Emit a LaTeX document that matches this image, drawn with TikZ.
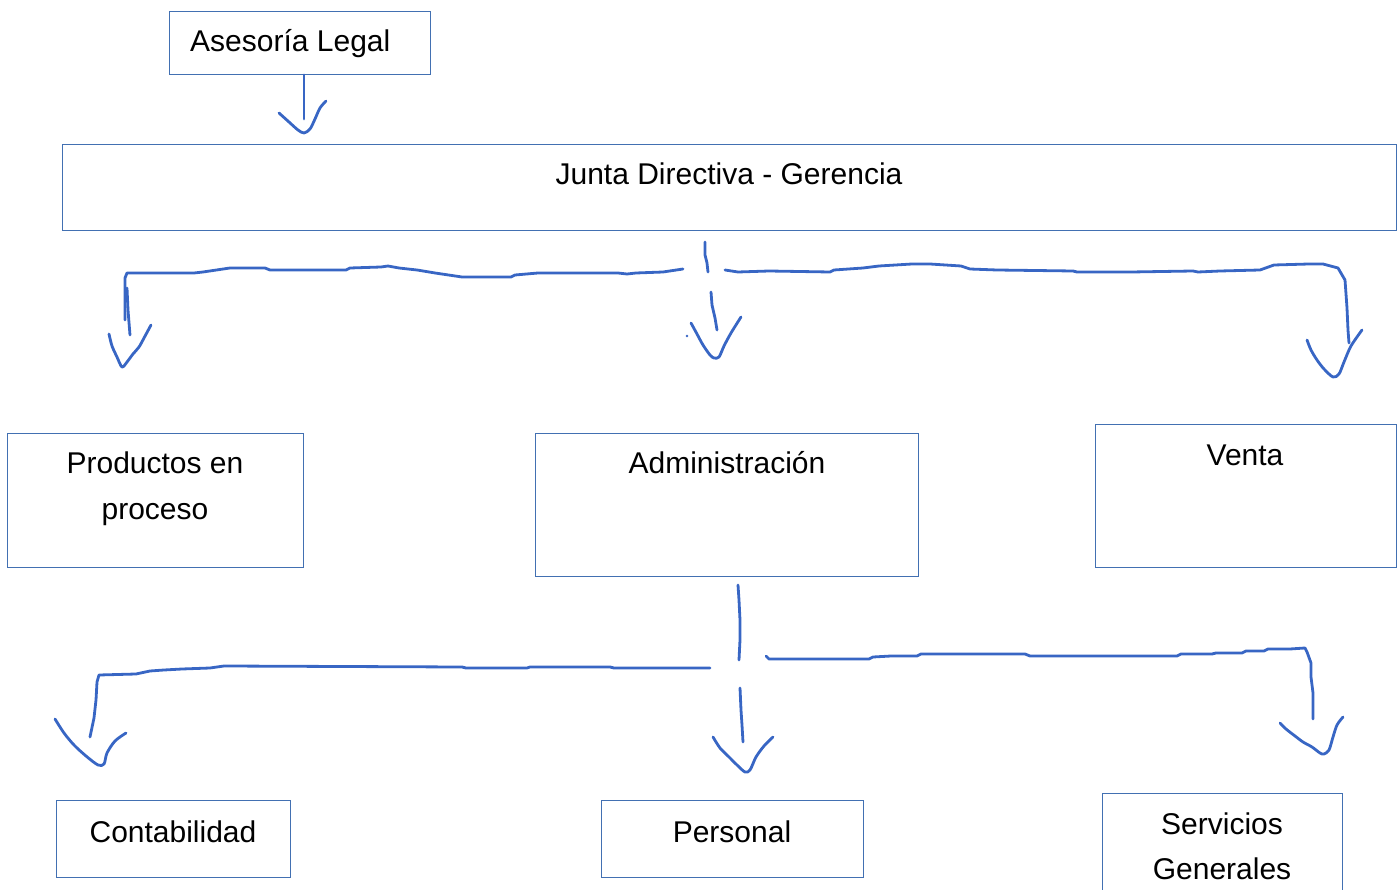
\documentclass[tikz,border=0pt]{standalone}
\usepackage{fontspec}
\setmainfont{Liberation Sans}
\definecolor{boxblue}{RGB}{66,112,178}
\definecolor{handblue}{RGB}{56,102,196}
\begin{document}
\begin{tikzpicture}[x=1pt,y=-1pt,
  box/.style={draw=boxblue,line width=1.2pt,inner sep=0pt,anchor=north west},
  lbl/.style={font=\fontsize{30}{45}\selectfont,inner sep=0pt,anchor=base},
  hand/.style={draw=handblue,line width=2.8pt,line cap=round,line join=round}]
\useasboundingbox (0,0) rectangle (1398,890);
\clip (0,0) rectangle (1398,890);
% boxes
\node[box,minimum width=261pt,minimum height=63pt] (ase) at (169,11) {};
\node[box,minimum width=1334pt,minimum height=86pt] (junta) at (62,144) {};
\node[box,minimum width=296pt,minimum height=134pt] (prod) at (7,433) {};
\node[box,minimum width=383pt,minimum height=143pt] (admin) at (535,433) {};
\node[box,minimum width=301pt,minimum height=143pt] (venta) at (1095,424) {};
\node[box,minimum width=234pt,minimum height=77pt] (conta) at (56,800) {};
\node[box,minimum width=262pt,minimum height=77pt] (pers) at (601,800) {};
\node[box,minimum width=240pt,minimum height=110pt] (serv) at (1102,793) {};
% texts
\node[lbl,anchor=base west] (aseT) at (190,52) {Asesoría Legal};
\node[lbl] (juntaT) at (729,185) {Junta Directiva - Gerencia};
\node[lbl] (prodT1) at (155,474) {Productos en};
\node[lbl] (prodT2) at (155,519) {proceso};
\node[lbl] (adminT) at (727,474) {Administración};
\node[lbl] (ventaT) at (1245,465) {Venta};
\node[lbl] (contaT) at (173,842) {Contabilidad};
\node[lbl] (persT) at (732,842) {Personal};
\node[lbl] (servT1) at (1222,834) {Servicios};
\node[lbl] (servT2) at (1222,879) {Generales};
% Asesoria -> Junta
\draw[hand] (304,75) -- (304,119);
\draw[hand] plot[smooth] coordinates {(279,113) (289,122) (298,130) (304,133) (310,129) (315,119) (320,108) (326,101)};
% Junta centre
\draw[hand] (705,242) -- (705,255) -- (707,263) -- (708,272);
\draw[hand] (711,292) -- (712,305) -- (715,318) -- (717,330);
\draw[hand] plot[smooth] coordinates {(691,323) (697,334) (703,345) (710,355) (714,358) (719,357) (724,346) (731,333) (741,317)};
\fill[handblue] (687,336) circle (1.3);
% Junta left branch
\draw[hand] (683,269) -- (663,272) -- (636,273) -- (627,274) -- (618,273) -- (538,273) -- (515,275) -- (511,277) -- (462,277) -- (435,273) -- (417,270) -- (399,268) -- (388,266) -- (381,267) -- (350,268) -- (346,270) -- (270,270) -- (265,268) -- (230,268) -- (203,272) -- (194,273) -- (176,273) -- (127,273) -- (125,278) -- (125,300) -- (125,320);
\draw[hand] (127,288) -- (128,310) -- (130,335);
\draw[hand] plot[smooth] coordinates {(109,334) (112,346) (117,357) (122,367) (127,362) (133,354) (139,347) (144,338) (151,325)};
% Junta right branch
\draw[hand] (725,270) -- (738,272) -- (769,271) -- (830,272) -- (834,270) -- (863,268) -- (879,266) -- (912,264) -- (930,264) -- (961,266) -- (970,269) -- (997,270) -- (1073,271) -- (1077,272) -- (1131,272) -- (1193,271) -- (1198,272) -- (1220,271) -- (1260,270) -- (1274,265) -- (1309,264) -- (1323,264) -- (1338,268) -- (1345,280) -- (1347,308) -- (1348,330) -- (1349,343);
\draw[hand] plot[smooth] coordinates {(1307,340) (1311,350) (1317,360) (1324,369) (1333,377) (1339,374) (1344,362) (1351,346) (1362,330)};
% Administracion centre
\draw[hand] (738,585) -- (739,600) -- (740,620) -- (740,640) -- (739,660);
\draw[hand] (740,688) -- (741,710) -- (742,725) -- (743,742);
\draw[hand] plot[smooth] coordinates {(713,737) (720,748) (729,757) (737,765) (745,772) (750,770) (756,757) (764,746) (773,737)};
% Administracion left branch
\draw[hand] (710,668) -- (614,668) -- (610,667) -- (530,667) -- (527,668) -- (466,668) -- (462,667) -- (224,666) -- (210,668) -- (182,669) -- (164,670) -- (150,671) -- (136,674) -- (99,675) -- (97,682) -- (96,700) -- (94,718) -- (90,737);
\draw[hand] plot[smooth] coordinates {(55,719) (64,733) (74,745) (86,756) (98,765) (104,764) (107,753) (115,741) (126,733)};
% Administracion right branch
\draw[hand] (766,656) -- (769,659) -- (869,659) -- (873,657) -- (891,656) -- (917,656) -- (921,654) -- (1025,654) -- (1030,656) -- (1177,656) -- (1181,654) -- (1212,654) -- (1216,653) -- (1242,653) -- (1246,651) -- (1264,651) -- (1268,649) -- (1290,649) -- (1305,648) -- (1307,652) -- (1311,663) -- (1311,677) -- (1313,693) -- (1313,719);
\draw[hand] plot[smooth] coordinates {(1280,723) (1286,729) (1295,736) (1303,742) (1312,747) (1320,753) (1324,754) (1329,750) (1333,737) (1337,725) (1343,717)};
\end{tikzpicture}
\end{document}
